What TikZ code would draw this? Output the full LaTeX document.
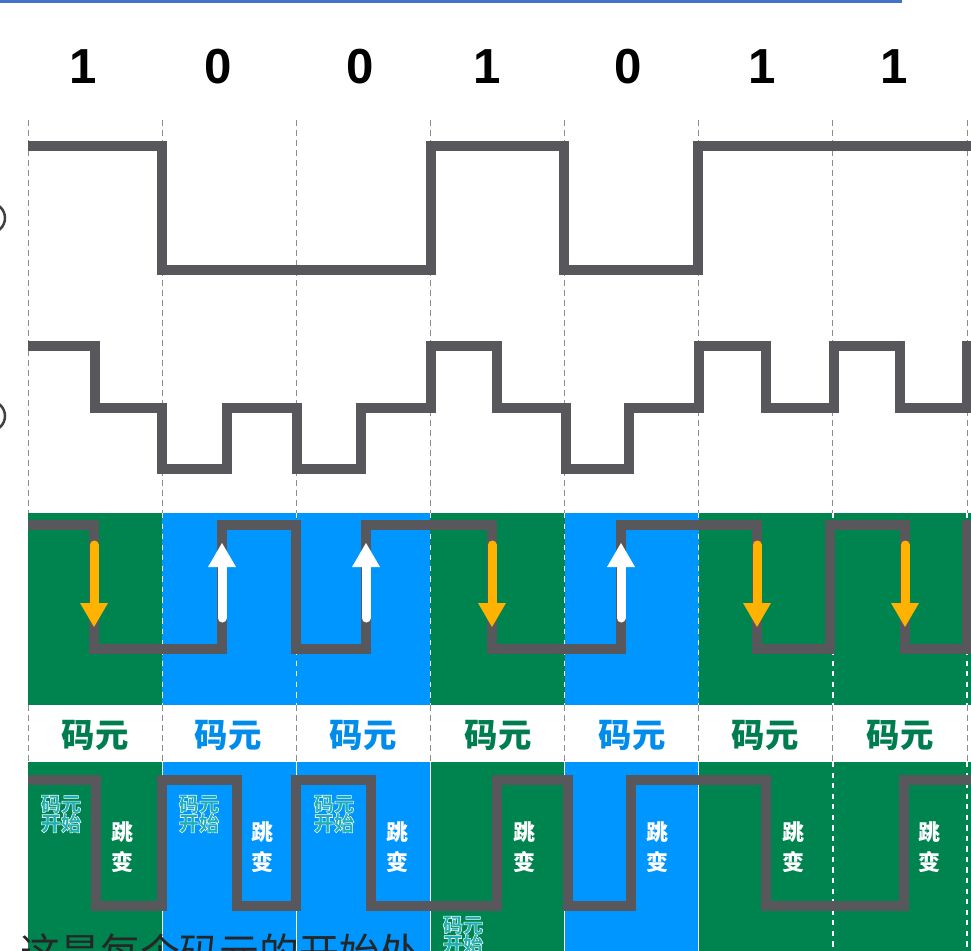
\documentclass[tikz,border=0pt]{standalone}
\usepackage{fontspec}
\setmainfont{Liberation Sans}
\newfontfamily\cjk{Noto Sans CJK SC}
\usetikzlibrary{positioning,arrows.meta}
\definecolor{cellgreen}{RGB}{0,132,79}
\definecolor{cellblue}{RGB}{0,150,255}
\definecolor{wavegray}{RGB}{88,88,92}
\definecolor{fallorange}{RGB}{255,178,0}
\definecolor{gridgray}{RGB}{140,140,140}
\definecolor{labelgreen}{RGB}{0,125,80}
\definecolor{labelblue}{RGB}{0,140,235}
\definecolor{startteal}{RGB}{30,175,180}
\definecolor{rulecolor}{RGB}{68,114,196}
% text with a thin white outline
\newcommand\haloed[2]{\special{pdf:literal direct 2 Tr #1 w 1 1 1 RG}#2\special{pdf:literal direct 0 Tr}}
\tikzset{
  bit/.style={
    font=\fontsize{28}{28}\selectfont\bfseries,
  },
  wave/.style={
    draw=wavegray,
    line width=2mm,
  },
  grid line/.style={
    draw=gridgray,
    line width=0.2mm,
    dash pattern=on 1.2mm off 0.8mm,
  },
  cell line/.style={
    draw=white,
    line width=0.25mm,
  },
  one cell/.style={
    fill=cellgreen,
    minimum width={26.83mm},
    minimum height={#1},
    inner sep=0pt,
    outer sep=0pt,
  },
  zero cell/.style={
    fill=cellblue,
    minimum width={26.83mm},
    minimum height={#1},
    inner sep=0pt,
    outer sep=0pt,
  },
  fall/.style={
    draw=fallorange,
    line width=1.8mm,
    line cap=round,
    -{Triangle[width=5.6mm,length=4.8mm,line width=0pt]},
  },
  rise/.style={
    draw=white,
    line width=1.8mm,
    line cap=round,
    -{Triangle[width=5.6mm,length=4.8mm,line width=0pt]},
  },
  cell label/.style={
    font=\cjk\fontsize{19}{19}\selectfont\bfseries,
    text=#1,
  },
  start label/.style={
    font=\cjk\fontsize{11.5}{11}\selectfont\bfseries,
    text=startteal,
    align=center,
    inner sep=0pt,
  },
  jump label/.style={
    font=\cjk\fontsize{12.5}{17}\selectfont\bfseries,
    text=white,
    align=center,
    inner sep=0pt,
  },
  caption/.style={
    font=\cjk\fontsize{22.7}{22.7}\selectfont,
    text=black!85,
    inner sep=0pt,
  },
  ring/.style={
    circle,
    draw=black!75,
    line width=0.5mm,
    minimum size=6mm,
  },
}

\begin{document}
\begin{tikzpicture}[x=0.2mm, y=-0.2mm, node distance=0pt]
    \useasboundingbox (0,0) rectangle (971,951);
    \fill[white] (0,0) rectangle (971,951);
    \clip (0,0) rectangle (971,951);

    % cells of the two lower rows
    \node [one cell=38.4mm, anchor=north west] (m1) at (28,513) {};
    \node [zero cell=38.4mm, right=of m1] (m2) {};
    \node [zero cell=38.4mm, right=of m2] (m3) {};
    \node [one cell=38.4mm, right=of m3] (m4) {};
    \node [zero cell=38.4mm, right=of m4] (m5) {};
    \node [one cell=38.4mm, right=of m5] (m6) {};
    \node [one cell=38.4mm, right=of m6] (m7) {};
    \node [one cell=38.4mm, right=of m7] (m8) {};

    \node [one cell=42mm, anchor=north west] (d1) at (28,762) {};
    \node [zero cell=42mm, right=of d1] (d2) {};
    \node [zero cell=42mm, right=of d2] (d3) {};
    \node [one cell=42mm, right=of d3] (d4) {};
    \node [zero cell=42mm, right=of d4] (d5) {};
    \node [one cell=42mm, right=of d5] (d6) {};
    \node [one cell=42mm, right=of d6] (d7) {};
    \node [one cell=42mm, right=of d7] (d8) {};

    % dashed cell borders
    \draw [grid line] (m1.north west |- 0,120) -- (m1.north west);
    \draw [grid line] (m2.north west |- 0,120) -- (m2.north west);
    \draw [grid line] (m3.north west |- 0,120) -- (m3.north west);
    \draw [grid line] (m4.north west |- 0,120) -- (m4.north west);
    \draw [grid line] (m5.north west |- 0,120) -- (m5.north west);
    \draw [grid line] (m6.north west |- 0,120) -- (m6.north west);
    \draw [grid line] (m7.north west |- 0,120) -- (m7.north west);
    \draw [grid line] (m8.north west |- 0,120) -- (m8.north west);
    \draw [grid line] (m1.south west) -- (d1.north west);
    \draw [grid line] (m2.south west) -- (d2.north west);
    \draw [grid line] (m3.south west) -- (d3.north west);
    \draw [grid line] (m4.south west) -- (d4.north west);
    \draw [grid line] (m5.south west) -- (d5.north west);
    \draw [grid line] (m6.south west) -- (d6.north west);
    \draw [grid line] (m7.south west) -- (d7.north west);
    \draw [grid line] (m8.south west) -- (d8.north west);
    \draw [cell line, dashed] (m2.north west) -- (m2.south west);
    \draw [cell line, dashed] (m3.north west) -- (m3.south west);
    \draw [cell line, dashed] (m4.north west) -- (m4.south west);
    \draw [cell line, dashed] (m5.north west) -- (m5.south west);
    \draw [cell line, dashed] (m6.north west) -- (m6.south west);
    \draw [cell line, dashed] (m7.north west) -- (m7.south west);
    \draw [cell line, dashed] (m8.north west) -- (m8.south west);
    \draw [cell line] (d2.north west) -- (d2.south west);
    \draw [cell line] (d3.north west) -- (d3.south west);
    \draw [cell line] (d4.north west) -- (d4.south west);
    \draw [cell line] (d5.north west) -- (d5.south west);
    \draw [cell line] (d6.north west) -- (d6.south west);
    \draw [cell line, dashed] (d7.north west) -- (d7.south west);
    \draw [cell line, dashed] (d8.north west) -- (d8.south west);

    % top rule and cut-off marks at the left
    \draw [rulecolor, line width=0.6mm] (0,1.5) -- (902,1.5);
    \node [ring] (r1) at (-10,218) {};
    \node [ring] (r2) at (-10,416) {};

    % bits
    \node [bit] (b1) at (83,67) {1};
    \node [bit] (b2) at (218,67) {0};
    \node [bit] (b3) at (360,67) {0};
    \node [bit] (b4) at (487,67) {1};
    \node [bit] (b5) at (628,67) {0};
    \node [bit] (b6) at (762,67) {1};
    \node [bit] (b7) at (894,67) {1};

    % waveforms
    \draw [wave] (28,146) -- (162,146) -- (162,270) -- (431,270) -- (431,146)
      -- (564,146) -- (564,270) -- (698,270) -- (698,146) -- (980,146);
    \draw [wave] (28,346) -| (95,408) -| (162,469) -| (227,408) -| (297,469)
      -| (361,408) -| (431,346) -| (497,408) -| (566,469) -| (629,408)
      -| (699,346) -| (766,408) -| (834,346) -| (900,408) -| (967,346) -- (980,346);
    \draw [wave] (28,525) -| (94,649) -| (222,525) -| (296,649) -| (366,525)
      -| (492,649) -| (621,525) -| (757,649) -| (830,525) -| (905,649)
      -| (967,525) -- (980,525);
    \draw [wave] (28,780) -| (96,906) -| (162,780) -| (237,906) -| (296,780)
      -| (371,906) -| (497,780) -| (568,906) -| (631,780) -| (766,906)
      -| (904,780) -- (980,780);

    % transition arrows
    \path (94,545) coordinate (a1t) (94,627) coordinate (a1h);
    \path (222,618) coordinate (a2t) (222,543) coordinate (a2h);
    \path (366,618) coordinate (a3t) (366,543) coordinate (a3h);
    \path (492,545) coordinate (a4t) (492,627) coordinate (a4h);
    \path (621,618) coordinate (a5t) (621,543) coordinate (a5h);
    \path (757,545) coordinate (a6t) (757,627) coordinate (a6h);
    \path (905,545) coordinate (a7t) (905,627) coordinate (a7h);
    \draw [fall] (a1t) -- (a1h);
    \draw [rise] (a2t) -- (a2h);
    \draw [rise] (a3t) -- (a3h);
    \draw [fall] (a4t) -- (a4h);
    \draw [rise] (a5t) -- (a5h);
    \draw [fall] (a6t) -- (a6h);
    \draw [fall] (a7t) -- (a7h);

    % cell names
    \node [cell label=labelgreen] (n1) at (95,735) {码元};
    \node [cell label=labelblue] (n2) at (228,735) {码元};
    \node [cell label=labelblue] (n3) at (363,735) {码元};
    \node [cell label=labelgreen] (n4) at (498,735) {码元};
    \node [cell label=labelblue] (n5) at (632,735) {码元};
    \node [cell label=labelgreen] (n6) at (765,735) {码元};
    \node [cell label=labelgreen] (n7) at (900,735) {码元};

    % notes in the last row
    \node [start label] (s1) at (61,814) {\haloed{0.3}{码元}\\\haloed{0.3}{开始}};
    \node [start label] (s2) at (199,814) {\haloed{0.3}{码元}\\\haloed{0.3}{开始}};
    \node [start label] (s3) at (334,814) {\haloed{0.3}{码元}\\\haloed{0.3}{开始}};
    \node [start label] (s4) at (463,935) {\haloed{0.3}{码元}\\\haloed{0.3}{开始}};
    \node [jump label] (j1) at (122,847) {跳\\变};
    \node [jump label] (j2) at (262,847) {跳\\变};
    \node [jump label] (j3) at (397,847) {跳\\变};
    \node [jump label] (j4) at (524,847) {跳\\变};
    \node [jump label] (j5) at (657,847) {跳\\变};
    \node [jump label] (j6) at (793,847) {跳\\变};
    \node [jump label] (j7) at (929,847) {跳\\变};

    \node [caption, anchor=base west] (cap) at (20,967) {这是每个码元的开始处};
\end{tikzpicture}
\end{document}
